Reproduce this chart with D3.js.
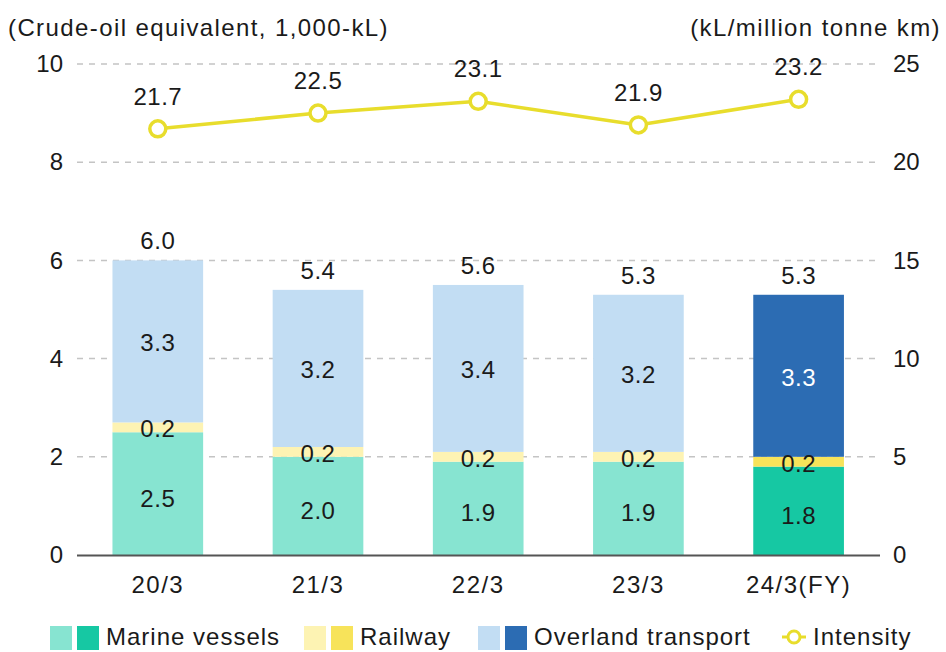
<!DOCTYPE html>
<html><head><meta charset="utf-8">
<script src="https://cdn.jsdelivr.net/npm/d3@7"></script>
<style>
body{margin:0;background:#fff;}
text{font-family:"Liberation Sans",Arial,sans-serif;fill:#1a1a1a;}
</style></head>
<body><svg id="c" width="946" height="652"></svg>
<script>
const categories = ["20/3","21/3","22/3","23/3","24/3(FY)"];
const marine = [2.5, 2.0, 1.9, 1.9, 1.8];
const railway = [0.2, 0.2, 0.2, 0.2, 0.2];
const overland = [3.3, 3.2, 3.4, 3.2, 3.3];
const totals = ["6.0","5.4","5.6","5.3","5.3"];
const intensity = [21.7, 22.5, 23.1, 21.9, 23.2];
const leftTicks = [0,2,4,6,8,10];
const rightTicks = [0,5,10,15,20,25];

const svg = d3.select("#c");
const x = d3.scaleBand().domain(categories).range([77.7, 878.7]).paddingInner(0.434).paddingOuter(0.217);
const y = d3.scaleLinear().domain([0,10]).range([555,64]);
const y2 = d3.scaleLinear().domain([0,25]).range([555,64]);

const light = {marine:"#87e4d1", railway:"#fdf3b3", overland:"#c2ddf3"};
const dark = {marine:"#16c8a3", railway:"#f7e35a", overland:"#2c6cb3"};
const lineColor = "#e8dd2c";
const FS = 24;

// grid
svg.append("g").selectAll("line").data(leftTicks.filter(d=>d>0)).join("line")
  .attr("x1",77).attr("x2",880).attr("y1",d=>y(d)).attr("y2",d=>y(d))
  .attr("stroke","#c4c4c4").attr("stroke-width",1.5).attr("stroke-dasharray","6,6");

// axes
const la = svg.append("g").attr("transform","translate(77,0)")
  .call(d3.axisLeft(y).tickValues(leftTicks).tickSize(0).tickPadding(14));
la.select(".domain").remove();
la.selectAll("text").style("font-size",FS+"px").attr("fill","#1a1a1a").style("font-family","Liberation Sans, Arial, sans-serif");
const ra = svg.append("g").attr("transform","translate(880,0)")
  .call(d3.axisRight(y2).tickValues(rightTicks).tickSize(0).tickPadding(13));
ra.select(".domain").remove();
ra.selectAll("text").style("font-size",FS+"px").attr("fill","#1a1a1a").style("font-family","Liberation Sans, Arial, sans-serif");

// bars
const stacks = categories.map((c,i)=>{
  const last = i===categories.length-1;
  const col = last?dark:light;
  const segs = [
    {key:"marine", v:marine[i], y0:0, y1:marine[i], c:col.marine, dy:13},
    {key:"railway", v:railway[i], y0:marine[i], y1:marine[i]+railway[i], c:col.railway, dy:10},
    {key:"overland", v:overland[i], y0:marine[i]+railway[i], y1:marine[i]+railway[i]+overland[i], c:col.overland, dy:10}
  ];
  return {c, i, last, segs};
});
const bg = svg.append("g");
stacks.forEach(s=>{
  bg.selectAll(null).data(s.segs).join("rect")
    .attr("x",x(s.c)).attr("width",x.bandwidth())
    .attr("y",d=>y(d.y1)).attr("height",d=>y(d.y0)-y(d.y1)).attr("fill",d=>d.c);
});
svg.append("line").attr("x1",77).attr("x2",880).attr("y1",y(0)+0.5).attr("y2",y(0)+0.5)
  .attr("stroke","#555").attr("stroke-width",2);

// segment labels
const lg0 = svg.append("g");
stacks.forEach(s=>{
  lg0.selectAll(null).data(s.segs).join("text")
    .attr("x",x(s.c)+x.bandwidth()/2)
    .attr("y",d=>y((d.y0+d.y1)/2)+d.dy)
    .attr("text-anchor","middle").style("font-size",FS+"px").style("letter-spacing","0.5px")
    .style("fill",d=>(s.last&&d.key==="overland")?"#fff":"#1a1a1a")
    .text(d=>d.v.toFixed(1));
  const top = s.segs[2].y1;
  lg0.append("text").attr("x",x(s.c)+x.bandwidth()/2).attr("y",y(top)-11)
    .attr("text-anchor","middle").style("font-size",FS+"px").style("letter-spacing","0.5px").text(totals[s.i]);
});

// category labels
svg.append("g").selectAll("text").data(categories).join("text")
  .attr("x",d=>x(d)+x.bandwidth()/2).attr("y",593).attr("text-anchor","middle")
  .style("font-size",FS+"px").style("letter-spacing","1.5px").text(d=>d);

// line
const cx = (c)=>x(c)+x.bandwidth()/2;
svg.append("path").datum(intensity)
  .attr("d",d3.line().x((d,i)=>cx(categories[i])).y(d=>y2(d)))
  .attr("fill","none").attr("stroke",lineColor).attr("stroke-width",3.5);
svg.append("g").selectAll("circle").data(intensity).join("circle")
  .attr("cx",(d,i)=>cx(categories[i])).attr("cy",d=>y2(d)).attr("r",8)
  .attr("fill","#fff").attr("stroke",lineColor).attr("stroke-width",3.5);
svg.append("g").selectAll("text").data(intensity).join("text")
  .attr("x",(d,i)=>cx(categories[i])).attr("y",d=>y2(d)-24).attr("text-anchor","middle")
  .style("font-size",FS+"px").style("letter-spacing","0.5px").text(d=>d.toFixed(1));

// titles
svg.append("text").attr("x",8).attr("y",36).style("font-size","24px").style("letter-spacing","1.4px").text("(Crude-oil equivalent, 1,000-kL)");
svg.append("text").attr("x",941).attr("y",36).attr("text-anchor","end").style("font-size","24px").style("letter-spacing","1.4px").text("(kL/million tonne km)");

// legend
const lg = svg.append("g");
const items = [
  {l:"Marine vessels", k:"marine", x:50},
  {l:"Railway", k:"railway", x:304},
  {l:"Overland transport", k:"overland", x:478}
];
items.forEach(it=>{
  lg.append("rect").attr("x",it.x).attr("y",626).attr("width",22).attr("height",24).attr("fill",light[it.k]);
  lg.append("rect").attr("x",it.x+27).attr("y",626).attr("width",22).attr("height",24).attr("fill",dark[it.k]);
  lg.append("text").attr("x",it.x+56).attr("y",645).style("font-size",FS+"px").style("letter-spacing","1px").text(it.l);
});
lg.append("line").attr("x1",782).attr("x2",806).attr("y1",637).attr("y2",637).attr("stroke",lineColor).attr("stroke-width",3);
lg.append("circle").attr("cx",794).attr("cy",637).attr("r",6).attr("fill","#fff").attr("stroke",lineColor).attr("stroke-width",3);
lg.append("text").attr("x",813).attr("y",645).style("font-size",FS+"px").style("letter-spacing","1px").text("Intensity");
</script></body></html>
